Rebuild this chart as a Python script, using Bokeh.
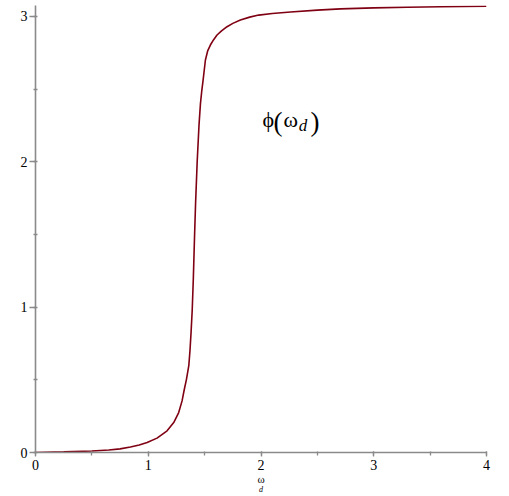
from bokeh.plotting import figure
from bokeh.models import Label, Range1d, SingleIntervalTicker, Title
from bokeh.embed import file_html
from bokeh.resources import INLINE

# data
omega_d = [0, 0.25, 0.5, 0.65, 0.75, 0.842, 0.92, 0.99, 1.078, 1.167, 1.226, 1.27,
           1.30, 1.32, 1.338, 1.36, 1.37, 1.38, 1.39, 1.40, 1.41, 1.42, 1.434,
           1.45, 1.463, 1.475, 1.486, 1.507, 1.528, 1.551, 1.58, 1.61, 1.65,
           1.699, 1.75, 1.817, 1.9, 1.98, 2.1, 2.262, 2.5, 2.705, 3.0, 3.3,
           3.592, 4.0]
phi = [0, 0.004, 0.01, 0.017, 0.025, 0.038, 0.052, 0.069, 0.099, 0.149, 0.206,
       0.275, 0.355, 0.435, 0.50, 0.60, 0.70, 0.83, 0.98, 1.2, 1.47, 1.72, 2.0,
       2.25, 2.40, 2.49, 2.558, 2.70, 2.765, 2.803, 2.84, 2.872, 2.90, 2.929,
       2.952, 2.975, 2.995, 3.009, 3.02, 3.03, 3.043, 3.052, 3.059, 3.063,
       3.066, 3.07]
x_ticks = [0, 1, 2, 3, 4]
y_ticks = [0, 1, 2, 3]

p = figure(width=501, height=494, output_backend="svg", toolbar_location=None,
           x_range=Range1d(0, 4), y_range=Range1d(0, 3.075),
           min_border_left=35, min_border_right=15, min_border_top=5,
           min_border_bottom=42)
p.outline_line_color = None
p.grid.visible = False
p.background_fill_color = "white"
p.border_fill_color = "white"

p.line(omega_d, phi, line_color="#7F0012", line_width=1.6)

for ax in (p.xaxis[0], p.yaxis[0]):
    ax.axis_line_color = "#8a8a8a"
    ax.axis_line_width = 1.6
    ax.major_tick_line_color = "#8a8a8a"
    ax.minor_tick_line_color = "#8a8a8a"
    ax.major_tick_line_width = 1.3
    ax.minor_tick_line_width = 1.3
    ax.major_label_text_font = "Liberation Serif"
    ax.major_label_text_font_size = "14px"
    ax.major_label_text_color = "black"

p.xaxis[0].ticker = SingleIntervalTicker(interval=1, num_minor_ticks=2)
p.yaxis[0].ticker = SingleIntervalTicker(interval=1, num_minor_ticks=2)
p.xaxis[0].major_tick_in = 1
p.xaxis[0].major_tick_out = 4
p.xaxis[0].minor_tick_in = 1
p.xaxis[0].minor_tick_out = 3
p.xaxis[0].major_label_standoff = 3
p.yaxis[0].major_tick_in = 0
p.yaxis[0].major_tick_out = 6
p.yaxis[0].minor_tick_in = 2
p.yaxis[0].minor_tick_out = 2
p.yaxis[0].major_label_standoff = 2

serif = "Liberation Serif"

# x axis label omega_d : omega as axis label, subscript d as a title below it
p.xaxis[0].axis_label = "ω"
p.xaxis[0].axis_label_text_font = serif
p.xaxis[0].axis_label_text_font_size = "11px"
p.xaxis[0].axis_label_text_font_style = "normal"
p.xaxis[0].axis_label_text_color = "black"
p.xaxis[0].axis_label_standoff = 0
p.add_layout(Title(text="d", align="center", offset=9, standoff=-10,
                   text_font=serif, text_font_size="8px",
                   text_font_style="italic", text_color="black"), "below")


def lab(x, y, t, size, style="normal"):
    p.add_layout(Label(x=x, y=y, text=t, text_font=serif, text_font_size=size,
                       text_font_style=style, text_color="black",
                       text_baseline="alphabetic", text_align="left"))

# annotation phi(omega_d)
lab(2.013, 2.29, "ϕ", "22px")
lab(2.111, 2.276, "(", "27px")
lab(2.200, 2.29, "ω", "22px")
lab(2.335, 2.249, "d", "17px", "italic")
lab(2.440, 2.276, ")", "27px")

open("out.html", "w").write(file_html(p, INLINE))
